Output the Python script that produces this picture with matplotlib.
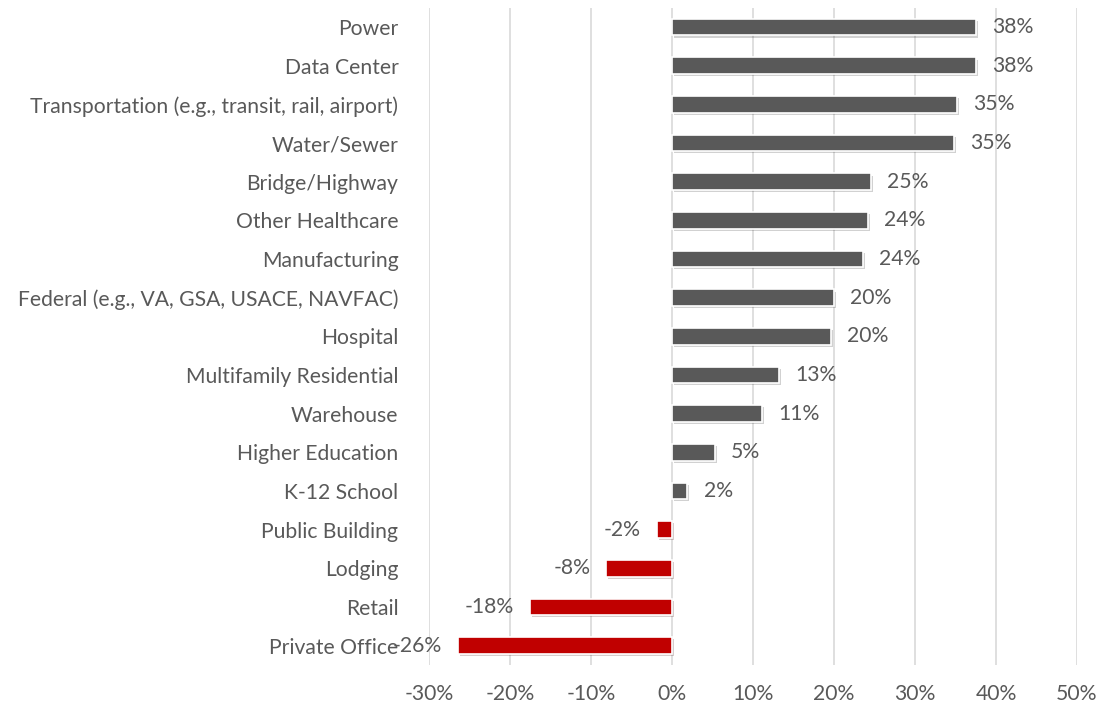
import matplotlib.pyplot as plt
import matplotlib.patheffects as pe
from matplotlib.ticker import FuncFormatter

plt.rcParams['font.family'] = ['Lato', 'DejaVu Sans']

categories = ['Power', 'Data Center', 'Transportation (e.g., transit, rail, airport)',
              'Water/Sewer', 'Bridge/Highway', 'Other Healthcare', 'Manufacturing',
              'Federal (e.g., VA, GSA, USACE, NAVFAC)', 'Hospital',
              'Multifamily Residential', 'Warehouse', 'Higher Education',
              'K-12 School', 'Public Building', 'Lodging', 'Retail', 'Private Office']
values = [37.5, 37.5, 35.2, 34.8, 24.6, 24.2, 23.6, 20.0, 19.6, 13.2, 11.1,
          5.3, 1.9, -1.9, -8.1, -17.5, -26.4]
labels = ['38%', '38%', '35%', '35%', '25%', '24%', '24%', '20%', '20%', '13%',
          '11%', '5%', '2%', '-2%', '-8%', '-18%', '-26%']

text_color = '#595959'
pos_color = '#595959'
neg_color = '#C00000'
fs = 15.2

fig = plt.figure(figsize=(11.01, 7.07), dpi=100)
ax = fig.add_axes([0.3896, 0.0594, 0.5886, 0.9296])

ypos = list(range(len(categories)))[::-1]
colors = [pos_color if v >= 0 else neg_color for v in values]
bars = ax.barh(ypos, values, height=0.43, color=colors, edgecolor='white',
               linewidth=1.2, zorder=3)
for b in bars:
    b.set_path_effects([pe.SimplePatchShadow(offset=(1.5, -1.5), alpha=0.2),
                        pe.Normal()])

for y, v, lab in zip(ypos, values, labels):
    if v >= 0:
        ax.text(v + 2.0, y, lab, va='center', ha='left', fontsize=fs,
                color=text_color, zorder=4)
    else:
        ax.text(v - 2.0, y, lab, va='center', ha='right', fontsize=fs,
                color=text_color, zorder=4)

ax.set_xlim(-30, 50)
ax.set_ylim(-0.5, len(categories) - 0.5)
ax.set_xticks(range(-30, 51, 10))
ax.xaxis.set_major_formatter(FuncFormatter(lambda x, p: f'{int(round(x))}%'))
ax.set_yticks(ypos)
ax.set_yticklabels(categories)
ax.tick_params(axis='both', length=0, labelsize=fs, labelcolor=text_color)
ax.tick_params(axis='y', pad=22)
ax.tick_params(axis='x', pad=14)
ax.grid(axis='x', color='#D9D9D9', linewidth=1.2, zorder=0)
for s in ax.spines.values():
    s.set_visible(False)

fig.savefig('out.png', dpi=100)
